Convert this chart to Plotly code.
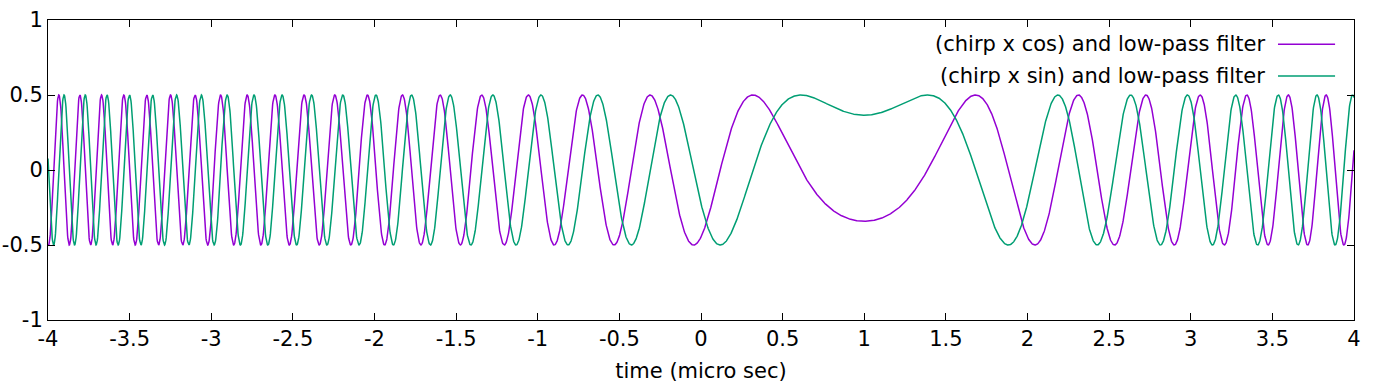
import numpy as np
import plotly.graph_objects as go

# ---- values ----
SERIES_NAMES = ["(chirp x cos) and low-pass filter", "(chirp x sin) and low-pass filter"]
SERIES_COLORS = ["#9400D3", "#009E73"]
TIME_RANGE = [-4.0, 4.0]          # micro sec
AMPLITUDE = 0.5                   # peak value of both curves
CHIRP_CENTER = 1.0                # time where the phase difference is stationary
CHIRP_RATE = 5.0                  # rad / (micro sec)^2, from spacing of extrema
PHASE_AT_CENTER = 3.96            # rad, from values at t = 1 (-0.34 / +0.37)
N_SAMPLES = 4001

X_TICKS = [-4, -3.5, -3, -2.5, -2, -1.5, -1, -0.5, 0, 0.5, 1, 1.5, 2, 2.5, 3, 3.5, 4]
X_TICK_TEXT = ["-4", "-3.5", "-3", "-2.5", "-2", "-1.5", "-1", "-0.5", "0", "0.5",
               "1", "1.5", "2", "2.5", "3", "3.5", "4"]
Y_TICKS = [-1, -0.5, 0, 0.5, 1]
Y_TICK_TEXT = ["-1", "-0.5", "0", "0.5", "1"]
X_TITLE = "time (micro sec)"

t = np.linspace(TIME_RANGE[0], TIME_RANGE[1], N_SAMPLES)
phase = CHIRP_RATE * (t - CHIRP_CENTER) ** 2 + PHASE_AT_CENTER
y_cos = AMPLITUDE * np.cos(phase)
y_sin = -AMPLITUDE * np.sin(phase)

FONT = "DejaVu Sans"
FS = 21

fig = go.Figure()
for y, name, col in zip([y_cos, y_sin], SERIES_NAMES, SERIES_COLORS):
    fig.add_trace(go.Scatter(x=t, y=y, mode="lines", name=name,
                             line=dict(color=col, width=1.5), showlegend=False))

# gnuplot-style key: text right-aligned, sample line to the right
key_rows_y = [0.919, 0.8133]  # paper coords
for name, col, yy in zip(SERIES_NAMES, SERIES_COLORS, key_rows_y):
    fig.add_annotation(xref="paper", yref="paper", x=0.9334, y=yy, text=name,
                       showarrow=False, xanchor="right", yanchor="middle",
                       font=dict(family=FONT, size=FS, color="black"))
    fig.add_shape(type="line", xref="paper", yref="paper", x0=0.9418, x1=0.9855,
                  y0=yy, y1=yy, line=dict(color=col, width=1.5))

axis_common = dict(showline=True, linecolor="black", linewidth=1, mirror="allticks",
                   ticks="inside", ticklen=7, tickcolor="black", tickwidth=1,
                   showgrid=False, zeroline=False, automargin=False,
                   tickfont=dict(family=FONT, size=FS, color="black"))

fig.update_xaxes(range=TIME_RANGE, tickvals=X_TICKS, ticktext=X_TICK_TEXT,
                 title=dict(text=X_TITLE, font=dict(family=FONT, size=FS, color="black"),
                            standoff=13),
                 **axis_common)
fig.update_yaxes(range=[-1, 1], tickvals=Y_TICKS, ticktext=Y_TICK_TEXT, **axis_common)

fig.update_layout(width=1376, height=384,
                  margin=dict(l=48, r=22, t=20, b=64),
                  plot_bgcolor="white", paper_bgcolor="white",
                  font=dict(family=FONT, size=FS, color="black"))

# remove the browser's default 8px body margin so the figure fills the window
fig.write_html("out.html", config={"displayModeBar": False},
               post_script="document.body.style.margin='0';")
